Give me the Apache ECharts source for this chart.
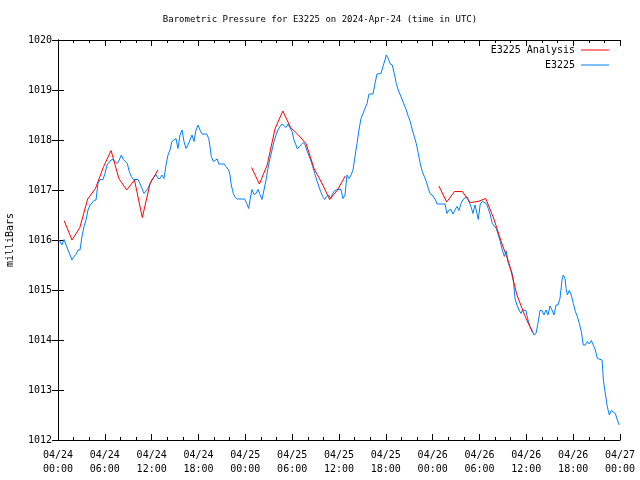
<!DOCTYPE html>
<html>
<head>
<meta charset="utf-8">
<script src="https://cdn.jsdelivr.net/npm/echarts@6/dist/echarts.min.js"></script>
<style>html,body{margin:0;padding:0;background:#fff;}#c{width:640px;height:480px;}</style>
</head>
<body>
<div id="c"></div>
<script>
const titleText = 'Barometric Pressure for E3225 on 2024-Apr-24 (time in UTC)';
const yAxisName = 'milliBars';
const xTickLabels = ['04/24\n00:00','04/24\n06:00','04/24\n12:00','04/24\n18:00','04/25\n00:00','04/25\n06:00','04/25\n12:00','04/25\n18:00','04/26\n00:00','04/26\n06:00','04/26\n12:00','04/26\n18:00','04/27\n00:00'];

// E3225 observations: hours since 04/24 00:00 UTC, pressure (mb)
const obsHours = [0.09,0.26,0.51,0.77,1.02,1.28,1.54,1.79,2.05,2.31,2.56,2.82,3.07,3.33,3.59,3.84,4.10,4.36,4.61,4.87,5.12,5.38,5.76,6.02,6.28,6.53,6.79,7.05,7.30,7.60,7.85,8.11,8.37,8.62,8.88,9.13,9.39,9.65,10.25,10.50,10.76,11.02,11.27,11.53,11.79,12.04,12.30,12.55,12.81,13.07,13.32,13.58,13.84,14.09,14.35,14.60,14.86,15.12,15.37,15.63,15.89,16.14,16.40,16.65,16.91,17.17,17.42,17.68,17.94,18.19,18.45,19.05,19.31,19.47,19.64,19.90,20.15,20.41,20.59,21.27,21.52,21.87,22.03,22.20,22.46,22.71,22.97,23.92,24.17,24.43,24.60,24.85,25.11,25.37,25.62,25.88,26.13,26.39,26.65,26.90,27.16,27.42,27.67,27.93,28.18,28.44,28.70,28.95,29.21,29.47,29.72,29.98,30.23,30.49,30.66,30.91,31.17,31.43,31.68,31.86,32.12,32.37,32.63,32.89,33.14,33.40,33.65,33.91,34.17,34.42,34.68,34.94,35.19,35.45,35.70,35.87,36.25,36.51,36.77,37.02,37.28,37.54,37.79,38.05,38.31,38.56,38.82,39.07,39.33,39.59,39.84,40.36,40.61,40.87,41.38,41.64,41.89,42.06,42.31,42.57,42.83,43.08,43.34,43.59,43.85,44.11,44.36,44.62,44.88,45.13,45.39,45.64,45.90,46.16,46.41,46.67,46.93,47.18,47.44,47.66,47.92,48.17,48.43,48.55,49.58,49.83,50.09,50.35,50.60,50.86,51.12,51.37,51.63,51.89,52.14,52.40,52.65,52.91,53.17,53.42,53.68,53.84,54.10,54.36,54.61,54.87,55.12,55.38,55.64,55.89,56.15,56.41,56.66,56.92,57.17,57.43,57.69,57.94,58.20,58.38,58.55,58.80,59.06,59.32,59.51,59.74,59.95,60.21,60.47,60.72,60.98,61.24,61.49,61.75,62.01,62.26,62.52,62.77,63.03,63.29,63.54,63.80,64.06,64.31,64.57,64.73,64.96,65.09,65.25,65.51,65.76,66.02,66.28,66.53,66.79,67.04,67.30,67.56,67.81,68.07,68.33,68.58,68.84,69.10,69.70,69.87,70.12,70.37,70.63,70.89,71.14,71.40,71.66,71.91];
const obsPressure = [1016.01,1016.01,1015.90,1016.01,1016.01,1015.80,1015.70,1015.60,1015.67,1015.71,1015.80,1015.80,1016.07,1016.27,1016.40,1016.60,1016.70,1016.74,1016.79,1016.80,1017.13,1017.21,1017.21,1017.33,1017.50,1017.53,1017.60,1017.61,1017.57,1017.53,1017.60,1017.70,1017.61,1017.61,1017.53,1017.37,1017.27,1017.21,1017.21,1017.13,1017.03,1016.93,1016.92,1017.03,1017.13,1017.21,1017.26,1017.31,1017.23,1017.23,1017.30,1017.23,1017.50,1017.70,1017.80,1017.97,1018.00,1018.03,1017.83,1018.10,1018.20,1017.97,1017.83,1017.90,1018.00,1018.10,1017.97,1018.20,1018.30,1018.20,1018.12,1018.12,1018.03,1017.87,1017.67,1017.57,1017.57,1017.62,1017.52,1017.52,1017.47,1017.40,1017.30,1017.10,1016.93,1016.85,1016.82,1016.82,1016.73,1016.63,1016.80,1017.01,1016.91,1016.93,1017.01,1016.91,1016.81,1017.00,1017.20,1017.43,1017.63,1017.80,1017.97,1018.10,1018.20,1018.27,1018.32,1018.30,1018.25,1018.32,1018.28,1018.17,1018.00,1017.90,1017.82,1017.87,1017.91,1017.95,1017.90,1017.80,1017.70,1017.60,1017.47,1017.33,1017.20,1017.08,1016.97,1016.87,1016.81,1016.87,1016.90,1016.83,1016.93,1016.99,1017.01,1017.01,1017.01,1016.83,1016.90,1017.30,1017.23,1017.30,1017.40,1017.67,1017.93,1018.20,1018.43,1018.53,1018.63,1018.73,1018.92,1018.92,1019.13,1019.32,1019.33,1019.47,1019.60,1019.70,1019.63,1019.52,1019.50,1019.33,1019.13,1019.00,1018.90,1018.80,1018.70,1018.60,1018.47,1018.37,1018.20,1018.07,1017.93,1017.73,1017.53,1017.37,1017.27,1017.17,1017.03,1016.93,1016.90,1016.85,1016.78,1016.72,1016.72,1016.53,1016.60,1016.61,1016.52,1016.60,1016.67,1016.59,1016.73,1016.81,1016.81,1016.87,1016.90,1016.67,1016.53,1016.70,1016.53,1016.41,1016.72,1016.77,1016.81,1016.73,1016.63,1016.50,1016.33,1016.37,1016.23,1016.10,1015.97,1015.80,1015.67,1015.78,1015.53,1015.50,1015.33,1015.13,1014.83,1014.70,1014.60,1014.53,1014.60,1014.60,1014.59,1014.40,1014.27,1014.20,1014.10,1014.13,1014.33,1014.59,1014.59,1014.50,1014.60,1014.50,1014.68,1014.60,1014.50,1014.70,1014.70,1014.83,1015.20,1015.30,1015.23,1015.03,1014.90,1014.99,1014.90,1014.73,1014.57,1014.47,1014.33,1014.17,1013.90,1013.90,1013.97,1013.92,1013.99,1013.99,1013.80,1013.63,1013.60,1013.20,1012.93,1012.67,1012.50,1012.59,1012.59,1012.53,1012.40,1012.30];

// E3225 Analysis: three hourly segments
const anaHours1 = [0.8,1.8,2.8,3.8,4.8,5.8,6.8,7.8,8.8,9.8,10.8,11.8,12.8];
const anaPressure1 = [1016.38,1016.00,1016.25,1016.82,1017.03,1017.45,1017.79,1017.23,1017.00,1017.20,1016.45,1017.13,1017.40];
const anaHours2 = [24.8,25.8,26.8,27.8,28.8,29.8,30.8,31.8,32.8,33.8,34.8,35.8,36.8];
const anaPressure2 = [1017.45,1017.12,1017.50,1018.22,1018.58,1018.25,1018.10,1017.92,1017.43,1017.14,1016.81,1017.00,1017.28];
const anaHours3 = [48.8,49.8,50.8,51.8,52.8,53.8,54.8,55.8,56.8,57.8,58.8,59.8,60.8];
const anaPressure3 = [1017.08,1016.76,1016.97,1016.97,1016.75,1016.77,1016.83,1016.44,1015.96,1015.53,1014.90,1014.49,1014.15];

const pair = (xs, ys) => xs.map((x, i) => [x, ys[i]]);
const FONT = 'DejaVu Sans Mono';
const RED = '#ff0000', BLUE = '#0080ff';

const chart = echarts.init(document.getElementById('c'), null, {renderer: 'canvas'});
const axisCommon = {
  axisLine: {show: true, lineStyle: {color: '#000', width: 1}},
  splitLine: {show: false}
};
const anaSeries = (data) => ({
  name: 'E3225 Analysis', type: 'line', data: data, showSymbol: false, symbol: 'none',
  lineStyle: {color: RED, width: 1}, itemStyle: {color: RED}, z: 3
});
const legendCommon = {
  right: 31, orient: 'horizontal', align: 'right', itemWidth: 28, itemHeight: 1, itemGap: 0,
  icon: 'rect', padding: 0, selectedMode: false,
  textStyle: {fontFamily: FONT, fontSize: 10, color: '#000', padding: [0, 1, 0, 0]}
};
chart.setOption({
  animation: false,
  backgroundColor: '#fff',
  title: {
    text: titleText, left: 'center', top: 10,
    textStyle: {fontFamily: FONT, fontSize: 9, fontWeight: 'normal', color: '#000'}
  },
  legend: [
    Object.assign({}, legendCommon, {data: [{name: 'E3225 Analysis', itemStyle: {color: RED}}], top: 45}),
    Object.assign({}, legendCommon, {data: [{name: 'E3225', itemStyle: {color: BLUE}}], top: 60})
  ],
  grid: {left: 58, right: 20, top: 40, bottom: 40, containLabel: false, outerBoundsMode: 'none'},
  xAxis: [
    Object.assign({}, axisCommon, {
      type: 'value', position: 'bottom', min: 0, max: 72, interval: 6,
      axisTick: {show: true, inside: true, length: 6, lineStyle: {color: '#000'}},
      minorTick: {show: true, splitNumber: 3, length: 3, lineStyle: {color: '#000'}},
      axisLabel: {show: true, margin: 8, fontFamily: FONT, fontSize: 10, color: '#000', lineHeight: 14,
        formatter: (v) => xTickLabels[Math.round(v / 6)]}
    }),
    Object.assign({}, axisCommon, {
      type: 'value', position: 'top', min: 0, max: 72, interval: 6,
      axisTick: {show: true, inside: true, length: 6, lineStyle: {color: '#000'}},
      minorTick: {show: true, splitNumber: 3, length: 3, lineStyle: {color: '#000'}},
      axisLabel: {show: false}
    })
  ],
  yAxis: [
    Object.assign({}, axisCommon, {
      type: 'value', position: 'left', min: 1012, max: 1020, interval: 1,
      name: yAxisName, nameLocation: 'middle', nameGap: 43, nameRotate: 90,
      nameTextStyle: {fontFamily: FONT, fontSize: 10, color: '#000'},
      axisTick: {show: true, inside: true, length: 6, lineStyle: {color: '#000'}},
      axisLabel: {show: true, margin: 6, fontFamily: FONT, fontSize: 10, color: '#000',
        formatter: (v) => String(v)}
    }),
    Object.assign({}, axisCommon, {
      type: 'value', position: 'right', min: 1012, max: 1020, interval: 1,
      axisTick: {show: true, inside: true, length: 6, lineStyle: {color: '#000'}},
      axisLabel: {show: false}
    })
  ],
  series: [
    anaSeries(pair(anaHours1, anaPressure1)),
    anaSeries(pair(anaHours2, anaPressure2)),
    anaSeries(pair(anaHours3, anaPressure3)),
    {
      name: 'E3225', type: 'line', data: pair(obsHours, obsPressure), showSymbol: false, symbol: 'none',
      lineStyle: {color: BLUE, width: 1}, itemStyle: {color: BLUE}, z: 2
    }
  ]
});
</script>
</body>
</html>
